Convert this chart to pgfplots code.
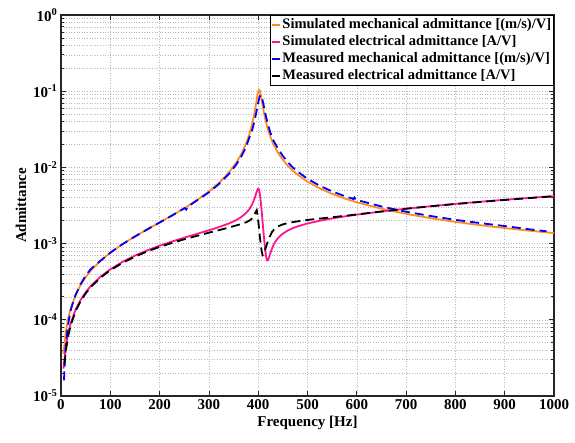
\documentclass[border=0pt]{standalone}
\usepackage{pgfplots}
\pgfplotsset{compat=1.18}
\usepackage{fontspec}
\setmainfont{Liberation Serif}
\definecolor{simorange}{RGB}{255,140,30}
\definecolor{simpink}{RGB}{255,20,147}
\definecolor{gridgray}{RGB}{185,185,185}
\begin{document}
\begin{tikzpicture}
\begin{axis}[
  scale only axis,
  width=493bp, height=381bp,
  xmin=0, xmax=1000,
  ymode=log, ymin=1e-5, ymax=1,
  xtick={0,100,200,300,400,500,600,700,800,900,1000},
  xticklabels={0,100,200,300,400,500,600,700,800,900,1000},
  minor x tick num=0,
  ytick={1e-5,1e-4,1e-3,1e-2,1e-1,1},
  yticklabels={10\textsuperscript{-5},10\textsuperscript{-4},10\textsuperscript{-3},10\textsuperscript{-2},10\textsuperscript{-1},10\textsuperscript{0}},
  minor ytick={2e-5,3e-5,4e-5,5e-5,6e-5,7e-5,8e-5,9e-5,2e-4,3e-4,4e-4,5e-4,6e-4,7e-4,8e-4,9e-4,2e-3,3e-3,4e-3,5e-3,6e-3,7e-3,8e-3,9e-3,2e-2,3e-2,4e-2,5e-2,6e-2,7e-2,8e-2,9e-2,0.2,0.3,0.4,0.5,0.6,0.7,0.8,0.9},
  grid=both,
  major grid style={gridgray, line width=0.6bp, dash pattern=on 1bp off 1.6bp},
  minor grid style={gridgray, line width=0.6bp, dash pattern=on 1bp off 1.6bp},
  tick align=inside,
  major tick length=5bp, minor tick length=3bp,
  tick style={black!85, line width=0.8bp},
  axis line style={black!85, line width=1.2bp},
  ticklabel style={font=\fontsize{15bp}{18bp}\selectfont\bfseries},
  label style={font=\fontsize{15bp}{18bp}\selectfont\bfseries},
  xlabel={Frequency [Hz]},
  ylabel={Admittance},
  legend style={at={(1,1)}, anchor=north east, draw=black, line width=0.8bp, fill=white,
    font=\fontsize{14.5bp}{17bp}\selectfont\bfseries, inner sep=1bp,
    cells={anchor=west}, row sep=0pt,
    nodes={inner xsep=1.5bp, inner ysep=1.5bp, text height=10.5bp, text depth=3.5bp}},
  legend image code/.code={\draw[#1] (0bp,0bp) -- (8bp,0bp);},
]
\addplot[simorange, line width=1.8bp] coordinates {
(5,3.57e-5)(10,7.13e-5)(15,1.07e-4)(20,1.43e-4)(30,2.151e-4)(40,2.881e-4)(50,3.621e-4)(60,4.375e-4)(80,5.939e-4)(100,7.6e-4)(125,9.867e-4)(150,1.2425e-3)(175,1.5395e-3)(200,1.895e-3)(225,2.336e-3)(250,2.907e-3)(275,3.685e-3)(300,4.822e-3)(320,6.217e-3)(340,8.487e-3)(355,1.1427e-2)(365,1.4672e-2)(375,2.0205e-2)(382,2.710e-2)(388,3.767e-2)(393,5.407e-2)(396,7.026e-2)(398,8.42e-2)(400,9.782e-2)(401,0.10237)(402,0.10405)(403,0.10236)(404,9.788e-2)(406,8.448e-2)(408,7.085e-2)(410,5.961e-2)(412,5.087e-2)(414,4.412e-2)(416,3.883e-2)(418,3.4617e-2)(420,3.120e-2)(422,2.8385e-2)(425,2.4992e-2)(428,2.232e-2)(432,1.9541e-2)(436,1.7384e-2)(440,1.5665e-2)(445,1.3951e-2)(450,1.2586e-2)(460,1.0547e-2)(470,9.098e-3)(480,8.015e-3)(500,6.505e-3)(525,5.298e-3)(550,4.4936e-3)(575,3.9173e-3)(600,3.4828e-3)(650,2.8697e-3)(700,2.4555e-3)(750,2.1553e-3)(800,1.9266e-3)(850,1.746e-3)(900,1.5992e-3)(950,1.4773e-3)(1000,1.3743e-3)
};
\addlegendentry{Simulated mechanical admittance [(m/s)/V]}
\addplot[simpink, line width=1.8bp] coordinates {
(5,2.29e-5)(10,4.58e-5)(15,6.87e-5)(20,9.17e-5)(30,1.375e-4)(40,1.835e-4)(50,2.294e-4)(60,2.754e-4)(80,3.677e-4)(100,4.604e-4)(125,5.772e-4)(150,6.953e-4)(175,8.152e-4)(200,9.378e-4)(225,1.0643e-3)(250,1.1966e-3)(275,1.3384e-3)(300,1.4962e-3)(320,1.6443e-3)(340,1.8318e-3)(355,2.0275e-3)(365,2.2147e-3)(375,2.5015e-3)(382,2.8305e-3)(388,3.3016e-3)(393,3.9756e-3)(396,4.5706e-3)(398,5.0012e-3)(399,5.171e-3)(400,5.2605e-3)(401,5.218e-3)(402,5.0136e-3)(403,4.648e-3)(404,4.1762e-3)(406,3.1472e-3)(408,2.2690e-3)(410,1.6157e-3)(412,1.1549e-3)(414,8.486e-4)(416,6.713e-4)(418,6.029e-4)(420,6.117e-4)(422,6.616e-4)(425,7.619e-4)(428,8.636e-4)(432,9.852e-4)(436,1.0891e-3)(440,1.1779e-3)(445,1.2724e-3)(450,1.3529e-3)(460,1.4852e-3)(470,1.5922e-3)(480,1.6833e-3)(500,1.836e-3)(525,1.9969e-3)(550,2.1397e-3)(575,2.2722e-3)(600,2.3983e-3)(650,2.639e-3)(700,2.8708e-3)(750,3.0974e-3)(800,3.3208e-3)(850,3.5419e-3)(900,3.7616e-3)(950,3.980e-3)(1000,4.1978e-3)
};
\addlegendentry{Simulated electrical admittance [A/V]}
\addplot[blue, line width=1.8bp, dash pattern=on 9bp off 5bp] coordinates {
(6,1.6e-5)(8,3.0e-5)(10,4.8e-5)(13,7.5e-5)(16,1.0e-4)(20,1.35e-4)(25,1.75e-4)(30,2.15e-4)(40,2.95e-4)(50,3.8e-4)(60,4.6e-4)(70,5.25e-4)(80,5.95e-4)(100,7.6e-4)(125,9.85e-4)(150,1.24e-3)(175,1.535e-3)(200,1.89e-3)(225,2.33e-3)(245,2.78e-3)(251,2.93e-3)(254,2.80e-3)(257,3.05e-3)(275,3.66e-3)(300,4.706e-3)(320,6.025e-3)(340,8.131e-3)(355,1.0784e-2)(365,1.3619e-2)(375,1.8242e-2)(382,2.462e-2)(388,3.133e-2)(393,4.206e-2)(397,5.596e-2)(400,7.053e-2)(403,8.511e-2)(405,8.902e-2)(407,8.513e-2)(410,7.086e-2)(413,5.663e-2)(416,4.59e-2)(420,3.608e-2)(425,2.824e-2)(430,2.313e-2)(436,1.97e-2)(443,1.652e-2)(450,1.412e-2)(460,1.171e-2)(470,1.003e-2)(480,8.79e-3)(500,7.08e-3)(525,5.73e-3)(550,4.84e-3)(575,4.21e-3)(590,3.92e-3)(593,3.84e-3)(595,4.02e-3)(598,3.77e-3)(650,3.07e-3)(700,2.62e-3)(750,2.30e-3)(800,2.05e-3)(850,1.86e-3)(900,1.70e-3)(950,1.54e-3)(985,1.45e-3)
};
\addlegendentry{Measured mechanical admittance [(m/s)/V]}
\addplot[black, line width=1.8bp, dash pattern=on 9bp off 5bp] coordinates {
(7,2.6e-5)(10,4.0e-5)(15,6.3e-5)(20,8.6e-5)(30,1.32e-4)(40,1.77e-4)(50,2.22e-4)(60,2.67e-4)(80,3.57e-4)(100,4.47e-4)(125,5.6e-4)(150,6.74e-4)(175,7.9e-4)(200,9.05e-4)(225,1.02e-3)(250,1.14e-3)(275,1.26e-3)(300,1.39e-3)(320,1.5e-3)(340,1.62e-3)(355,1.73e-3)(365,1.8e-3)(375,1.9e-3)(383,2.02e-3)(388,2.15e-3)(392,2.35e-3)(395,2.62e-3)(397,2.75e-3)(399,2.3e-3)(401,1.75e-3)(403,1.3e-3)(405,1.0e-3)(407,8.0e-4)(409,7.0e-4)(411,7.1e-4)(414,8.3e-4)(418,1.0e-3)(423,1.22e-3)(428,1.42e-3)(434,1.58e-3)(440,1.68e-3)(450,1.79e-3)(460,1.86e-3)(475,1.94e-3)(490,2.0e-3)(510,2.08e-3)(545,2.2e-3)(585,2.35e-3)(620,2.5e-3)(660,2.68e-3)(700,2.87e-3)(750,3.09e-3)(800,3.31e-3)(850,3.52e-3)(900,3.74e-3)(950,3.96e-3)(1000,4.18e-3)
};
\addlegendentry{Measured electrical admittance [A/V]}
\end{axis}
\pgfresetboundingbox
\path ([shift={(-61bp,-47bp)}]current axis.south west) rectangle ([shift={(21bp,15bp)}]current axis.north east);
\end{tikzpicture}
\end{document}
